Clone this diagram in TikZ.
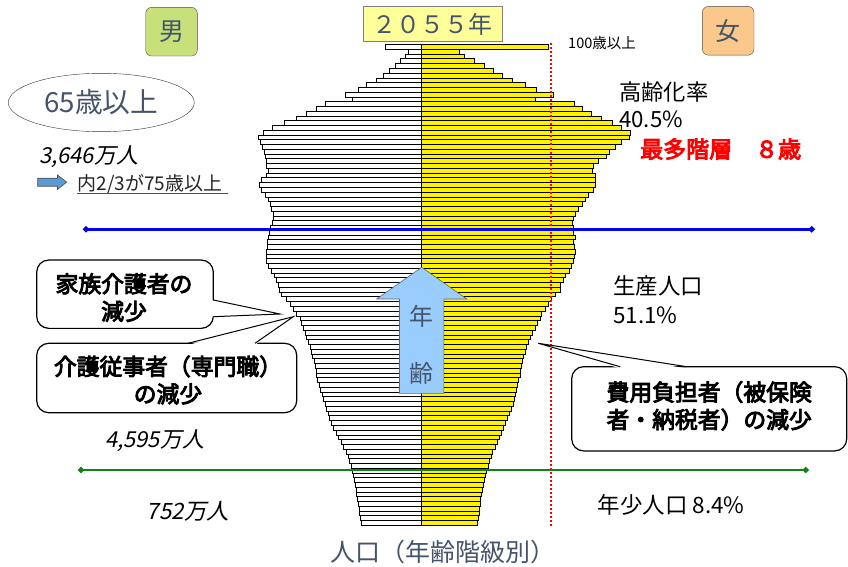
\documentclass[tikz,border=0pt]{standalone}
\usepackage{fontspec}
\setmainfont{Liberation Sans}
\newfontfamily\cjk{Noto Sans CJK JP}
\newfontfamily\cjkit{Noto Sans CJK JP}[FakeSlant=0.2]
\newfontfamily\cjkbf{Noto Sans CJK JP}[FakeBold=4]
\usetikzlibrary{shapes.geometric}
\definecolor{slate}{RGB}{68,84,106}
\definecolor{mgreen}{RGB}{200,224,122}
\definecolor{forange}{RGB}{250,200,138}
\definecolor{lyellow}{RGB}{255,255,153}
\definecolor{ablue}{RGB}{153,204,255}
\definecolor{sblue}{RGB}{91,155,213}
\definecolor{gline}{RGB}{20,130,20}
\tikzset{
  malebar/.style={draw=black, fill=white, line width=0.6},
  femalebar/.style={draw=black, fill=yellow, line width=0.6},
  sexbox/.style={draw=black!70, rounded corners=6, minimum width=51.6, minimum height=48.7, font=\cjk\fontsize{25}{28}\selectfont, text=slate},
  txt/.style={inner sep=0, font=\cjk\fontsize{22.3}{25}\selectfont, text=black},
  ittxt/.style={inner sep=0, font=\cjkit\fontsize{22}{25}\selectfont, text=black},
  calltxt/.style={inner sep=0, align=center, font=\cjkbf\fontsize{22.8}{27.5}\selectfont, text=black},
  callbox/.style={draw=black, line width=1.2, rounded corners=12, fill=white},
  endmark/.style={diamond, inner sep=0, minimum size=7},
}
\begin{document}
\begin{tikzpicture}[x=1pt,y=-1pt]
\path[use as bounding box] (0,0) rectangle (848,567);
% pyramid bars: male
\foreach \w [count=\i from 0] in {36,13.4,16.7,21,26.7,32.3,38.3,45,55,63.7,76.3,69.7,96.3,105.7,115,125.7,137.7,149,158.3,163.3,161.7,159.3,157.3,156.7,155.7,155,153.3,155,160,162.3,160,156.7,153.3,151.7,150,148.3,148.3,149,151,152.3,153.3,154.3,154.3,155,155.7,155.7,153.3,150,147.7,145,143.3,142.3,140,135,131.7,128.3,125,121.7,120,118.3,116.7,115,113.3,111.7,110,109,107.7,106.7,105.7,105,104,102.5,101,99.5,98,96.7,95,93.5,92,90,88.3,85.5,83,80.5,78,75,73.5,72,70.5,69.5,68.3,67.5,66.7,65.8,65,64.3,63.5,62.8,62,61.3,60.7}
  {\draw[malebar] ({421.7-\w},{44.5+4.76*\i}) rectangle (421.7,{44.5+4.76*(\i+1)});}
% female
\foreach \w [count=\i from 0] in {127,37.6,42.6,52.6,62.3,71.7,81,91,103.3,115,131.7,114,152.7,160.7,170,179.3,190.6,199.3,208.3,207.6,200,193.3,187.3,185,176.3,171.3,171,173.3,173.3,173.3,171.7,166.7,163.3,161,156.7,153.3,151.7,151,151.6,151.6,153.3,151.6,152.7,153.3,152.7,151.6,150,147.7,143.3,141.7,138.3,139,133.3,130,126.7,123.3,120,118.3,115.8,113.3,110.8,108.3,106.7,105,103.3,101.7,100.8,100,99,98.3,97,95.7,94.4,93.1,92.4,91.7,89.7,87.7,85.7,83.7,81.7,79.5,77.4,75.3,73.1,71,69.5,68,66.3,64.8,63.3,62.4,61.5,60.7,59.8,59,58.4,57.8,57.2,56.6,56}
  {\draw[femalebar] (421.7,{44.5+4.76*\i}) rectangle ({421.7+\w},{44.5+4.76*(\i+1)});}
% red dotted line
\coordinate (r1) at (551,43.5);
\coordinate (r2) at (551,525.5);
\draw[red, line width=2, dotted] (r1) -- (r2);
% blue and green lines
\node[endmark, fill=blue] (b1) at (86,229.3) {};
\node[endmark, fill=blue] (b2) at (811.7,229.3) {};
\draw[blue, line width=2.5] (b1.center) -- (b2.center);
\node[endmark, fill=gline] (g1) at (81,470) {};
\node[endmark, fill=gline] (g2) at (805.7,470) {};
\draw[gline, line width=2.5] (g1.center) -- (g2.center);
% age arrow
\draw[fill=ablue, draw=black!60, line width=0.6] (399.5,393.3) -- (399.5,299) -- (376.7,299) -- (421.7,267.3) -- (466.7,299) -- (443.9,299) -- (443.9,393.3) -- cycle;
\node[txt, text=slate, font=\cjk\fontsize{24}{26}\selectfont] (nen) at (421.7,316.7) {年};
\node[txt, text=slate, font=\cjk\fontsize{24}{26}\selectfont] (rei) at (421.7,373) {齢};
% title boxes
\node[sexbox, fill=mgreen] (otoko) at (171.5,31.7) {男};
\node[sexbox, fill=forange] (onna) at (728.2,30.8) {女};
\node[draw=black!50, fill=lyellow, minimum width=139, minimum height=35, inner sep=0, font=\cjk\fontsize{24}{26}\selectfont, text=slate] (year) at (432.8,24.2) {２０５５年};
\node[txt, font=\cjk\fontsize{14.5}{16}\selectfont, anchor=west] (hyaku) at (568,43) {100歳以上};
% left side
\node[ellipse, draw=black!80, minimum width=186, minimum height=58.4, inner sep=0, font=\cjk\fontsize{27.7}{30}\selectfont, text=slate] (over65) at (101.3,102.5) {65歳以上};
\node[ittxt, anchor=west] (n3646) at (39,157) {3,646万人};
\draw[fill=sblue, draw=black!70, line width=0.6] (37.7,178.2) -- (57.5,178.2) -- (57.5,175) -- (66.7,182.2) -- (57.5,189.4) -- (57.5,186.2) -- (37.7,186.2) -- cycle;
\node[txt, font=\cjk\fontsize{19}{21}\selectfont, text=black!85, anchor=west] (uchi) at (77.3,184) {内2/3が75歳以上};
\draw[black!70, line width=1] (77.3,193) -- (228,193);
\node[ittxt, anchor=west] (n4595) at (105,440.7) {4,595万人};
\node[ittxt, font=\cjkit\fontsize{22.5}{25}\selectfont, anchor=west] (n752) at (146.7,511.7) {752万人};
% right side
\node[txt, anchor=west] (koureika) at (619,92) {高齢化率};
\node[txt, anchor=west] (p405) at (619,119) {40.5\%};
\node[inner sep=0, anchor=west, font=\cjkbf\fontsize{23}{26}\selectfont, text=red] (saita) at (640,149) {最多階層　８歳};
\node[txt, font=\cjk\fontsize{22.5}{25}\selectfont, anchor=west] (seisan) at (613,286) {生産人口};
\node[txt, font=\cjk\fontsize{22.5}{25}\selectfont, anchor=west] (p511) at (613,315) {51.1\%};
\node[txt, font=\cjk\fontsize{22.5}{25}\selectfont, anchor=west] (nensho) at (597.3,505) {年少人口 8.4\%};
\node[txt, font=\cjk\fontsize{25}{28}\selectfont, text=slate] (xlabel) at (442.8,551.7) {人口（年齢階級別）};
% callout 1
\node[callbox, minimum width=176.6, minimum height=68.3] (c1) at (125,294.2) {};
\coordinate (c1tip) at (280,314);
\fill[white] (211.5,300) -- (c1tip) -- (211.5,316.7) -- cycle;
\draw[line width=1] (213.3,300) -- (c1tip) -- (213.3,316.7);
\node[calltxt] (c1t) at (124,297.5) {家族介護者の\\減少};
% callout 2
\node[callbox, minimum width=260, minimum height=69.4] (c2) at (166.7,378) {};
\coordinate (c2tip) at (293.3,316.7);
\fill[white] (188,345) -- (c2tip) -- (255,345) -- cycle;
\draw[line width=1] (188,343.3) -- (c2tip) -- (255,343.3);
\node[calltxt] (c2t) at (168,380) {介護従事者（専門職）\\の減少};
% callout 3
\node[callbox, minimum width=275, minimum height=84.3] (c3) at (709.2,408.8) {};
\coordinate (c3tip) at (538.3,343.3);
\fill[white] (620,368.5) -- (c3tip) -- (686.7,368.5) -- cycle;
\draw[line width=1] (620,366.7) -- (c3tip) -- (686.7,366.7);
\node[calltxt] (c3t) at (709.2,405.8) {費用負担者（被保険\\者・納税者）の減少};
\end{tikzpicture}
\end{document}
